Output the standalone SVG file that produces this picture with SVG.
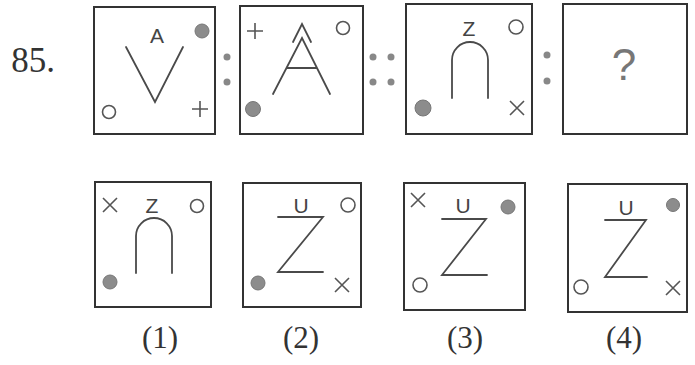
<svg xmlns="http://www.w3.org/2000/svg" width="695" height="365" viewBox="0 0 695 365">
<style>
.box{fill:none;stroke:#333;stroke-width:2}
.ln{fill:none;stroke:#4a4a4a;stroke-width:1.8;stroke-linecap:round;stroke-linejoin:miter}
.sym{fill:none;stroke:#555;stroke-width:1.6}
.oc{fill:none;stroke:#555;stroke-width:1.6}
.gc{fill:#8c8c8c;stroke:#777;stroke-width:1}
.dot{fill:#888}
.lt{font-family:"Liberation Sans",Arial,sans-serif;font-size:21px;fill:#444;text-anchor:middle}
.num{font-family:"Liberation Serif","Times New Roman",serif;fill:#333;text-anchor:middle}
</style>
<defs>
<g id="plus"><path class="sym" d="M-8,0H8M0,-8V8"/></g>
<g id="cross"><path class="sym" d="M-7,-7L7,7M7,-7L-7,7"/></g>
</defs>
<rect width="695" height="365" fill="#fff"/>
<text class="num" x="33" y="72" font-size="35">85.</text>

<g id="fig1">
<rect class="box" x="94" y="7" width="121" height="127"/>
<text class="lt" x="157" y="43">A</text>
<path class="ln" d="M126,47L155,102L183,47"/>
<circle class="gc" cx="202" cy="31" r="7"/>
<circle class="oc" cx="109" cy="112" r="6.5"/>
<use href="#plus" x="200" y="109"/>
</g>

<g id="colon1">
<circle class="dot" cx="227" cy="57" r="3.5"/>
<circle class="dot" cx="227" cy="82" r="3.5"/>
</g>

<g id="fig2">
<rect class="box" x="240" y="6" width="123" height="128"/>
<use href="#plus" x="255" y="31"/>
<path class="ln" d="M293,42L302,24L311,42"/>
<path class="ln" d="M273,94L302,38L330,94M287,68H317"/>
<circle class="oc" cx="343" cy="28" r="6.5"/>
<circle class="gc" cx="253" cy="109" r="7.5"/>
</g>

<g id="colon2">
<circle class="dot" cx="373" cy="57" r="3.5"/>
<circle class="dot" cx="391" cy="57" r="3.5"/>
<circle class="dot" cx="373" cy="82" r="3.5"/>
<circle class="dot" cx="391" cy="82" r="3.5"/>
</g>

<g id="fig3">
<rect class="box" x="406" y="4" width="126" height="130"/>
<text class="lt" x="469" y="36">Z</text>
<circle class="oc" cx="516" cy="27" r="7"/>
<path class="ln" d="M452,98V60A18,18 0 0 1 488,60V98"/>
<circle class="gc" cx="423" cy="108" r="8"/>
<use href="#cross" x="517" y="108"/>
</g>

<g id="colon3">
<circle class="dot" cx="547" cy="55" r="3.5"/>
<circle class="dot" cx="547" cy="81" r="3.5"/>
</g>

<g id="fig4">
<rect class="box" x="563" y="4" width="124" height="130"/>
<text x="624" y="80" font-family="Liberation Sans,Arial,sans-serif" font-size="44" fill="#777" text-anchor="middle">?</text>
</g>

<g id="opt1">
<rect class="box" x="95" y="182" width="116" height="125"/>
<use href="#cross" x="110" y="205"/>
<text class="lt" x="152" y="213">Z</text>
<circle class="oc" cx="197" cy="206" r="6.5"/>
<path class="ln" d="M136,273V236A18,18 0 0 1 172,236V273"/>
<circle class="gc" cx="110" cy="282" r="7"/>
<text class="num" x="160" y="348" font-size="31">(1)</text>
</g>

<g id="opt2">
<rect class="box" x="243" y="183" width="118" height="124"/>
<text class="lt" x="301" y="213">U</text>
<path class="ln" d="M278,217H323L278,272H323"/>
<circle class="oc" cx="348" cy="205" r="7"/>
<circle class="gc" cx="258" cy="283" r="7"/>
<use href="#cross" x="342" y="285"/>
<text class="num" x="301" y="348" font-size="31">(2)</text>
</g>

<g id="opt3">
<rect class="box" x="404" y="183" width="121" height="127"/>
<use href="#cross" x="418" y="200"/>
<text class="lt" x="463" y="213">U</text>
<path class="ln" d="M442,219H486L442,275H487"/>
<circle class="gc" cx="508" cy="207" r="7"/>
<circle class="oc" cx="420" cy="285" r="7"/>
<text class="num" x="465" y="348" font-size="31">(3)</text>
</g>

<g id="opt4">
<rect class="box" x="568" y="184" width="119" height="128"/>
<text class="lt" x="626" y="215">U</text>
<path class="ln" d="M605,220H646L605,277H647"/>
<circle class="gc" cx="673" cy="205" r="6.5"/>
<circle class="oc" cx="581" cy="287" r="7"/>
<use href="#cross" x="673" y="288"/>
<text class="num" x="624" y="348" font-size="31">(4)</text>
</g>
</svg>
